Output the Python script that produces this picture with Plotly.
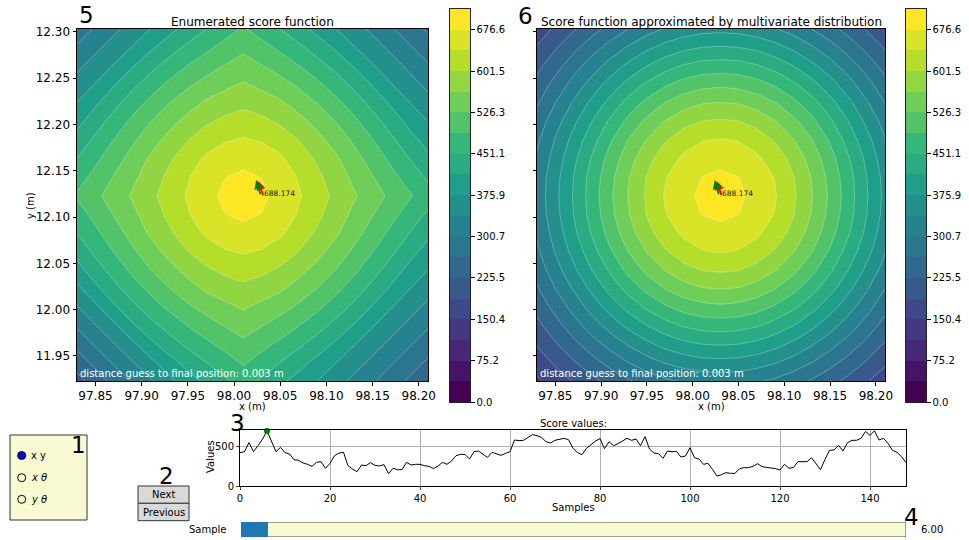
import plotly.graph_objects as go

W, H = 969, 540
FONT = "DejaVu Sans"

# ---------------- data ----------------
x_grid = [97.83, 97.85, 97.87, 97.89, 97.91, 97.93, 97.95, 97.97, 97.99, 98.01,
          98.03, 98.05, 98.07, 98.09, 98.11, 98.13, 98.15, 98.17, 98.19, 98.21]
y_grid = [11.923, 11.943, 11.963, 11.983, 12.003, 12.023, 12.043, 12.063, 12.083, 12.103,
          12.123, 12.143, 12.163, 12.183, 12.203, 12.223, 12.243, 12.263, 12.283, 12.303]

# enumerated score (rows from bottom to top)
enumerated_score = [
    [212, 243, 274, 305, 335, 366, 396, 422, 445, 468, 445, 422, 399, 376, 352, 329, 305, 281, 257, 233],
    [243, 274, 306, 336, 367, 399, 428, 451, 473, 493, 473, 451, 428, 402, 377, 353, 330, 305, 281, 257],
    [274, 306, 337, 368, 405, 435, 459, 481, 500, 518, 500, 481, 459, 435, 408, 378, 354, 330, 305, 281],
    [306, 337, 369, 408, 440, 466, 490, 510, 528, 543, 528, 510, 490, 466, 440, 411, 379, 354, 330, 305],
    [336, 368, 408, 442, 471, 497, 520, 540, 555, 568, 555, 540, 520, 497, 471, 442, 411, 378, 353, 329],
    [367, 405, 440, 471, 499, 526, 549, 570, 583, 593, 583, 570, 549, 526, 499, 471, 440, 408, 377, 352],
    [399, 435, 466, 497, 526, 552, 576, 596, 610, 618, 610, 596, 576, 552, 526, 497, 466, 435, 402, 376],
    [428, 459, 490, 520, 549, 576, 601, 622, 636, 643, 636, 622, 601, 576, 549, 520, 490, 459, 428, 399],
    [451, 481, 510, 540, 570, 596, 622, 645, 662, 667, 662, 645, 622, 596, 570, 540, 510, 481, 451, 422],
    [473, 500, 528, 555, 583, 610, 636, 662, 676, 683, 676, 662, 636, 610, 583, 555, 528, 500, 473, 445],
    [493, 518, 543, 568, 593, 618, 643, 667, 683, 688, 683, 667, 643, 618, 593, 568, 543, 518, 493, 468],
    [473, 500, 528, 555, 583, 610, 636, 662, 676, 683, 676, 662, 636, 610, 583, 555, 528, 500, 473, 445],
    [451, 481, 510, 540, 570, 596, 622, 645, 662, 667, 662, 645, 622, 596, 570, 540, 510, 481, 451, 422],
    [428, 459, 490, 520, 549, 576, 601, 622, 636, 643, 636, 622, 601, 576, 549, 520, 490, 459, 428, 399],
    [402, 435, 466, 497, 526, 552, 576, 596, 610, 618, 610, 596, 576, 552, 526, 497, 466, 435, 402, 376],
    [377, 408, 440, 471, 499, 526, 549, 570, 583, 593, 583, 570, 549, 526, 499, 471, 440, 408, 377, 352],
    [353, 378, 411, 442, 471, 497, 520, 540, 555, 568, 555, 540, 520, 497, 471, 442, 411, 378, 353, 329],
    [330, 354, 379, 411, 440, 466, 490, 510, 528, 543, 528, 510, 490, 466, 440, 411, 379, 354, 330, 305],
    [305, 330, 354, 378, 408, 435, 459, 481, 500, 518, 500, 481, 459, 435, 408, 378, 354, 330, 305, 281],
    [281, 305, 330, 353, 377, 402, 428, 451, 473, 493, 473, 451, 428, 402, 377, 353, 330, 305, 281, 257],
]

# score approximated by multivariate distribution (rows from bottom to top)
approx_score = [
    [144, 167, 191, 215, 238, 259, 278, 294, 305, 313, 315, 313, 305, 294, 278, 259, 238, 215, 191, 167],
    [167, 194, 222, 249, 276, 301, 323, 341, 354, 363, 366, 363, 354, 341, 323, 301, 276, 249, 222, 194],
    [191, 222, 253, 285, 315, 343, 368, 389, 405, 414, 417, 414, 405, 389, 368, 343, 315, 285, 253, 222],
    [215, 249, 285, 320, 354, 386, 414, 437, 455, 466, 469, 466, 455, 437, 414, 386, 354, 320, 285, 249],
    [238, 276, 315, 354, 392, 427, 458, 484, 504, 515, 520, 515, 504, 484, 458, 427, 392, 354, 315, 276],
    [259, 301, 343, 386, 427, 466, 500, 528, 549, 562, 566, 562, 549, 528, 500, 466, 427, 386, 343, 301],
    [278, 323, 368, 414, 458, 500, 536, 566, 589, 603, 607, 603, 589, 566, 536, 500, 458, 414, 368, 323],
    [294, 341, 389, 437, 484, 528, 566, 598, 622, 637, 642, 637, 622, 598, 566, 528, 484, 437, 389, 341],
    [305, 354, 405, 455, 504, 549, 589, 622, 646, 662, 667, 662, 646, 622, 589, 549, 504, 455, 405, 354],
    [313, 363, 414, 466, 515, 562, 603, 637, 662, 677, 683, 677, 662, 637, 603, 562, 515, 466, 414, 363],
    [315, 366, 417, 469, 520, 566, 607, 642, 667, 683, 688, 683, 667, 642, 607, 566, 520, 469, 417, 366],
    [313, 363, 414, 466, 515, 562, 603, 637, 662, 677, 683, 677, 662, 637, 603, 562, 515, 466, 414, 363],
    [305, 354, 405, 455, 504, 549, 589, 622, 646, 662, 667, 662, 646, 622, 589, 549, 504, 455, 405, 354],
    [294, 341, 389, 437, 484, 528, 566, 598, 622, 637, 642, 637, 622, 598, 566, 528, 484, 437, 389, 341],
    [278, 323, 368, 414, 458, 500, 536, 566, 589, 603, 607, 603, 589, 566, 536, 500, 458, 414, 368, 323],
    [259, 301, 343, 386, 427, 466, 500, 528, 549, 562, 566, 562, 549, 528, 500, 466, 427, 386, 343, 301],
    [238, 276, 315, 354, 392, 427, 458, 484, 504, 515, 520, 515, 504, 484, 458, 427, 392, 354, 315, 276],
    [215, 249, 285, 320, 354, 386, 414, 437, 455, 466, 469, 466, 455, 437, 414, 386, 354, 320, 285, 249],
    [191, 222, 253, 285, 315, 343, 368, 389, 405, 414, 417, 414, 405, 389, 368, 343, 315, 285, 253, 222],
    [167, 194, 222, 249, 276, 301, 323, 341, 354, 363, 366, 363, 354, 341, 323, 301, 276, 249, 222, 194],
]

level_step = 37.591
n_bands = 19
cbar_tick_labels = ["0.0", "75.2", "150.4", "225.5", "300.7", "375.9", "451.1", "526.3", "601.5", "676.6"]

x_ticks = [97.85, 97.90, 97.95, 98.00, 98.05, 98.10, 98.15, 98.20]
y_ticks = [11.95, 12.00, 12.05, 12.10, 12.15, 12.20, 12.25, 12.30]

# orientation arrows (tail -> head) : red = guess, green = final
arrow_tail_x = [98.032, 98.029]
arrow_tail_y = [12.122, 12.123]
arrow_head_x = [98.026, 98.024]
arrow_head_y = [12.139, 12.140]
arrow_colors = ["red", "green"]
label_pos = (98.031, 12.125)
current_score = 688.174
distance_text = "distance guess to final position: 0.003 m"

score_values = [
    417, 429, 542, 429, 504, 587, 688.174, 554, 429, 483,
    417, 400, 329, 321, 288, 271, 246, 296, 304, 221,
    283, 379, 412, 421, 254, 212, 179, 262, 254, 292,
    258, 250, 267, 154, 221, 204, 204, 296, 262, 271,
    271, 254, 246, 217, 250, 296, 271, 312, 379, 396,
    394, 337, 429, 437, 400, 358, 421, 400, 383, 408,
    429, 575, 567, 571, 608, 642, 629, 608, 554, 537,
    571, 587, 596, 579, 471, 417, 392, 471, 521, 562,
    592, 467, 554, 504, 529, 562, 596, 571, 587, 504,
    617, 462, 412, 404, 346, 437, 429, 433, 362, 375,
    479, 354, 337, 271, 283, 208, 125, 142, 167, 158,
    158, 217, 229, 229, 246, 279, 242, 233, 229, 217,
    200, 271, 221, 233, 304, 304, 304, 354, 275, 204,
    333, 446, 450, 508, 437, 542, 571, 571, 596, 682,
    633, 690, 575, 596, 533, 446, 421, 367, 292,
]
sample_index = list(range(len(score_values)))
current_sample = 6
line_x_ticks = [0, 20, 40, 60, 80, 100, 120, 140]
line_y_ticks = [0, 500]

radio_labels = ["x y", "<i>x θ</i>", "<i>y θ</i>"]
radio_selected = 0
button_labels = ["Next", "Previous"]
panel_numbers = ["1", "2", "3", "4", "5", "6"]

# ---------------- helpers ----------------
def fx(p):
    return p / W

def fy(p):
    return 1 - p / H

fig = go.Figure()

contour_common = dict(
    autocontour=False,
    contours=dict(start=level_step, end=(n_bands - 1) * level_step, size=level_step,
                  coloring="fill", showlines=True),
    colorscale="Viridis",
    line=dict(color="rgba(255,255,255,0.55)", width=0.5, smoothing=0),
    showscale=False,
    hoverinfo="skip",
)
fig.add_trace(go.Contour(x=x_grid, y=y_grid, z=enumerated_score, xaxis="x", yaxis="y", **contour_common))
fig.add_trace(go.Contour(x=x_grid, y=y_grid, z=approx_score, xaxis="x2", yaxis="y2", **contour_common))

band_mid = [(k + 0.5) * level_step for k in range(n_bands)]
for xa, ya in (("x3", "y3"), ("x4", "y4")):
    fig.add_trace(go.Heatmap(x=[0], y=band_mid, z=[[v] for v in band_mid], colorscale="Viridis",
                             zmin=band_mid[0], zmax=band_mid[-1], showscale=False,
                             hoverinfo="skip", xaxis=xa, yaxis=ya))

fig.add_trace(go.Scatter(x=sample_index, y=score_values, mode="lines",
                         line=dict(color="black", width=1), hoverinfo="skip",
                         xaxis="x5", yaxis="y5"))
fig.add_trace(go.Scatter(x=[current_sample], y=[score_values[current_sample]], mode="markers",
                         marker=dict(color="green", size=6), hoverinfo="skip",
                         xaxis="x5", yaxis="y5", cliponaxis=False))
# invisible anchor for slider axes
fig.add_trace(go.Scatter(x=[0], y=[0], mode="markers", marker=dict(opacity=0),
                         hoverinfo="skip", xaxis="x6", yaxis="y6"))

tickfont12 = dict(family=FONT, size=12, color="black")
tickfont10 = dict(family=FONT, size=10, color="black")

panel_axis = dict(showline=True, linecolor="black", linewidth=1, mirror=True,
                  ticks="outside", ticklen=3.5, tickwidth=0.8, tickcolor="black",
                  showgrid=False, zeroline=False, tickformat=".2f", tickfont=tickfont12,
                  automargin=False)

layout = dict(
    template="none",
    width=W, height=H, autosize=False,
    margin=dict(l=0, r=0, t=0, b=0, pad=0, autoexpand=False),
    paper_bgcolor="white", plot_bgcolor="white",
    showlegend=False,
    font=dict(family=FONT, color="black"),
    xaxis=dict(domain=[fx(77), fx(428)], range=[x_grid[0], x_grid[-1]], tickvals=x_ticks, anchor="y", **panel_axis),
    yaxis=dict(domain=[fy(381), fy(29)], range=[y_grid[0], y_grid[-1]], tickvals=y_ticks, anchor="x", **panel_axis),
    xaxis2=dict(domain=[fx(537), fx(885)], range=[x_grid[0], x_grid[-1]], tickvals=x_ticks, anchor="y2", **panel_axis),
    yaxis2=dict(domain=[fy(381), fy(29)], range=[y_grid[0], y_grid[-1]], tickvals=y_ticks, anchor="x2",
                showticklabels=False, **panel_axis),
)

cbar_x = dict(range=[-0.5, 0.5], showticklabels=False, ticks="", showgrid=False, zeroline=False,
              showline=True, linecolor="#222", linewidth=1, mirror=True, automargin=False)
cbar_y = dict(domain=[fy(402), fy(9)], range=[0, n_bands * level_step],
              tickvals=[float(t) for t in cbar_tick_labels], ticktext=cbar_tick_labels,
              side="right", ticks="outside", ticklen=3.5, tickwidth=0.8, tickcolor="black",
              tickfont=tickfont10, showgrid=False, zeroline=False,
              showline=True, linecolor="#222", linewidth=1, mirror=True, automargin=False)
layout["xaxis3"] = dict(domain=[fx(450), fx(470)], anchor="y3", **cbar_x)
layout["yaxis3"] = dict(anchor="x3", **cbar_y)
layout["xaxis4"] = dict(domain=[fx(906), fx(926)], anchor="y4", **cbar_x)
layout["yaxis4"] = dict(anchor="x4", **cbar_y)

layout["xaxis5"] = dict(domain=[fx(240), fx(906)], range=[0, len(score_values) - 1], anchor="y5",
                        tickvals=line_x_ticks, showgrid=True, gridcolor="#b0b0b0", gridwidth=0.8,
                        zeroline=False, showline=True, linecolor="black", linewidth=1, mirror=True,
                        ticks="outside", ticklen=3, tickwidth=0.8, tickfont=tickfont10, automargin=False)
layout["yaxis5"] = dict(domain=[fy(486), fy(430)], range=[0, 700], anchor="x5",
                        tickvals=line_y_ticks, showgrid=True, gridcolor="#b0b0b0", gridwidth=0.8,
                        zeroline=False, showline=True, linecolor="black", linewidth=1, mirror=True,
                        ticks="outside", ticklen=3, tickwidth=0.8, tickfont=tickfont10, automargin=False)
layout["xaxis6"] = dict(domain=[fx(241), fx(906)], range=[0, len(score_values) - 1], anchor="y6",
                        showticklabels=False, showgrid=False, zeroline=False, showline=False, ticks="",
                        automargin=False)
layout["yaxis6"] = dict(domain=[fy(537), fy(522)], range=[0, 1], anchor="x6",
                        showticklabels=False, showgrid=False, zeroline=False, showline=False, ticks="",
                        automargin=False)
fig.update_layout(**layout)

ann = []

def text(x, y, s, size=10, color="black", xanchor="center", yanchor="middle", angle=0, xref="paper", yref="paper"):
    ann.append(dict(x=x, y=y, xref=xref, yref=yref, text=s, showarrow=False,
                    font=dict(family=FONT, size=size, color=color),
                    xanchor=xanchor, yanchor=yanchor, textangle=angle, borderpad=0))

# titles and axis labels
text(fx(252.5), fy(22), "Enumerated score function", size=12)
text(fx(711), fy(22), "Score function approximated by multivariate distribution", size=12)
text(fx(252.5), fy(406), "x (m)", size=10)
text(fx(711), fy(406), "x (m)", size=10)
text(fx(30), fy(206), "y (m)", size=10, angle=-90)
text(fx(573), fy(423), "Score values:", size=10)
text(fx(573), fy(507), "Samples", size=10)
text(fx(210), fy(457), "Values", size=10, angle=-90)
text(fx(79), fy(373), distance_text, size=10, color="white", xanchor="left")
text(fx(539), fy(373), distance_text, size=10, color="white", xanchor="left")

# arrows + score label in both panels
for xr, yr in (("x", "y"), ("x2", "y2")):
    for tx, ty, hx, hy, c in zip(arrow_tail_x, arrow_tail_y, arrow_head_x, arrow_head_y, arrow_colors):
        ann.append(dict(x=hx, y=hy, ax=tx, ay=ty, xref=xr, yref=yr, axref=xr, ayref=yr,
                        text="", showarrow=True, arrowhead=2, arrowsize=1, arrowwidth=1.8,
                        arrowcolor=c))
    text(label_pos[0], label_pos[1], f"{current_score:.3f}", size=7.5, color="#222",
         xanchor="left", xref=xr, yref=yr)

# big panel numbers
num_pos = [(78, 445), (166, 476), (237, 423), (911, 517), (86, 15), (525, 16)]
for s, (px, py) in zip(panel_numbers, num_pos):
    text(fx(px), fy(py), s, size=23)

# radio buttons
shapes = []
shapes.append(dict(type="rect", xref="paper", yref="paper", x0=fx(10), x1=fx(87), y0=fy(520), y1=fy(435),
                   fillcolor="#fafad2", line=dict(color="#333", width=1), layer="below"))
radio_y = [455.5, 477.7, 499.3]
for i, (lab, ry) in enumerate(zip(radio_labels, radio_y)):
    shapes.append(dict(type="circle", xref="paper", yref="paper",
                       x0=fx(17.7), x1=fx(25.7), y0=fy(ry + 4), y1=fy(ry - 4),
                       fillcolor="blue" if i == radio_selected else "#fafad2",
                       line=dict(color="black", width=1)))
    text(fx(29.5), fy(ry), lab, size=10, xanchor="left")

# buttons
btn_y = [(486, 503.3), (503.3, 520.7)]
for lab, (y0, y1) in zip(button_labels, btn_y):
    shapes.append(dict(type="rect", xref="paper", yref="paper", x0=fx(138), x1=fx(189), y0=fy(y1), y1=fy(y0),
                       fillcolor="#d9d9d9", line=dict(color="#333", width=1)))
    text(fx(163.5), fy((y0 + y1) / 2), lab, size=10)

# slider
shapes.append(dict(type="rect", xref="x6", yref="y6", x0=0, x1=len(score_values) - 1, y0=0, y1=1,
                   fillcolor="#fafad2", line=dict(color="#444", width=1)))
shapes.append(dict(type="rect", xref="x6", yref="y6", x0=0, x1=current_sample, y0=0, y1=1,
                   fillcolor="#1f77b4", line=dict(width=0)))
text(fx(228), fy(529.5), "Sample", size=10, xanchor="right")
text(fx(920), fy(529.5), f"{current_sample:.2f}", size=10, xanchor="left")

fig.update_layout(annotations=ann, shapes=shapes)
fig.write_html("out.html", config={"displayModeBar": False})
